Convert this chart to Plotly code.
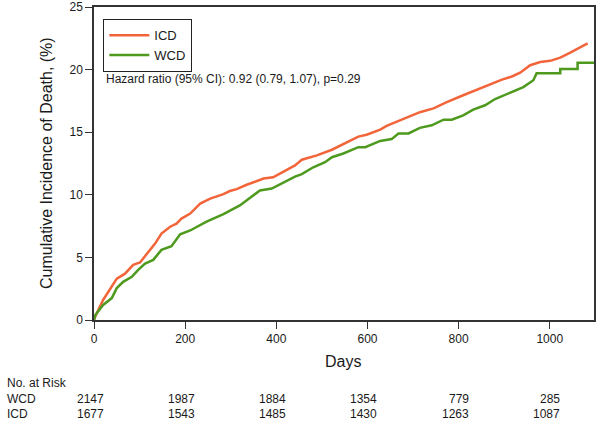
import plotly.graph_objects as go

# ---- data ----
icd_days = [0, 3, 20, 50, 68, 86, 101, 119, 134, 148, 167, 181, 192, 211, 233, 255, 284, 298, 313, 335,
            372, 393, 415, 441, 456, 489, 522, 555, 580, 598, 628, 642, 679, 715, 745, 774, 810, 847,
            876, 895, 917, 935, 957, 979, 1001, 1023, 1045, 1066, 1083]
icd_inc = [0.0, 0.3, 1.6, 3.3, 3.7, 4.4, 4.6, 5.45, 6.1, 6.9, 7.45, 7.7, 8.1, 8.5, 9.3, 9.7, 10.05, 10.3, 10.45, 10.8,
           11.3, 11.4, 11.85, 12.35, 12.8, 13.15, 13.6, 14.2, 14.65, 14.8, 15.2, 15.5, 16.05, 16.6, 16.9, 17.4, 17.95, 18.5,
           18.9, 19.2, 19.45, 19.75, 20.35, 20.6, 20.7, 20.95, 21.35, 21.75, 22.1]

wcd_days = [0, 3, 20, 39, 50, 64, 83, 97, 112, 130, 148, 170, 189, 211, 247, 284, 320, 335, 364, 390, 419,
            441, 456, 481, 507, 522, 547, 580, 595, 628, 653, 668, 690, 715, 741, 767, 785, 810, 832, 858,
            880, 906, 920, 942, 964, 971, 1023, 1023, 1061, 1061, 1097]
wcd_inc = [0.0, 0.4, 1.2, 1.75, 2.55, 3.05, 3.45, 4.0, 4.5, 4.8, 5.6, 5.9, 6.85, 7.15, 7.85, 8.45, 9.15, 9.55, 10.35, 10.5, 11.05,
           11.45, 11.65, 12.2, 12.6, 13.0, 13.3, 13.8, 13.8, 14.3, 14.45, 14.9, 14.9, 15.35, 15.55, 16.0, 16.0, 16.35, 16.8, 17.15,
           17.65, 18.05, 18.25, 18.6, 19.15, 19.7, 19.7, 20.05, 20.05, 20.55, 20.55]

risk_days = [0, 200, 400, 600, 800, 1000]
risk_wcd = [2147, 1987, 1884, 1354, 779, 285]
risk_icd = [1677, 1543, 1485, 1430, 1263, 1087]

x_ticks = [0, 200, 400, 600, 800, 1000]
y_ticks = [0, 5, 10, 15, 20, 25]

FONT = "Arial, Liberation Sans, Helvetica, sans-serif"
ORANGE = "#F2653A"
GREEN = "#4E9A1E"
AXC = "#333333"
TXT = "#1a1a1a"

fig = go.Figure()
fig.add_trace(go.Scatter(x=icd_days, y=icd_inc, mode="lines", name="ICD",
                         line=dict(color=ORANGE, width=2.5)))
fig.add_trace(go.Scatter(x=wcd_days, y=wcd_inc, mode="lines", name="WCD",
                         line=dict(color=GREEN, width=2.5)))

fig.update_layout(
    width=600, height=426,
    margin=dict(l=94, r=6, t=7, b=106, autoexpand=False),
    paper_bgcolor="white", plot_bgcolor="white",
    font=dict(family=FONT, size=12, color=TXT),
    showlegend=True,
    legend=dict(x=0.018, y=0.962, xanchor="left", yanchor="top",
                bordercolor="#222", borderwidth=1.3, bgcolor="white",
                font=dict(size=13, family=FONT, color=TXT),
                tracegroupgap=0, itemwidth=40),
)

fig.update_xaxes(range=[0, 1097], tickvals=x_ticks, ticks="outside", ticklen=7,
                 tickwidth=1.3, tickcolor=AXC, showline=True, linecolor=AXC, linewidth=1.5,
                 mirror=True, showgrid=False, zeroline=False, automargin=False,
                 tickfont=dict(size=12, family=FONT, color=TXT))
fig.update_yaxes(range=[0, 25], tickvals=y_ticks, ticks="outside", ticklen=7,
                 tickwidth=1.3, tickcolor=AXC, showline=True, linecolor=AXC, linewidth=1.5,
                 mirror=True, showgrid=False, zeroline=False, automargin=False,
                 tickfont=dict(size=12, family=FONT, color=TXT))

H = 313.0  # plot height in px
W = 500.0  # plot width in px


def py(pix):
    return (320 - pix) / H


def px(pix):
    return (pix - 94) / W


ann = []
ann.append(dict(text="Hazard ratio (95% CI): 0.92 (0.79, 1.07), p=0.29", xref="paper", yref="paper",
                x=px(104), y=py(79), xanchor="left", yanchor="middle", showarrow=False,
                font=dict(size=12, family=FONT, color=TXT)))
ann.append(dict(text="Cumulative Incidence of Death, (%)", xref="paper", yref="paper",
                x=px(46), y=py(163), xanchor="center", yanchor="middle", textangle=-90, showarrow=False,
                font=dict(size=16, family=FONT, color=TXT)))
ann.append(dict(text="Days", xref="paper", yref="paper",
                x=px(343), y=py(361), xanchor="center", yanchor="middle", showarrow=False,
                font=dict(size=16, family=FONT, color=TXT)))
ann.append(dict(text="No. at Risk", xref="paper", yref="paper", x=px(5), y=py(383),
                xanchor="left", yanchor="middle", showarrow=False,
                font=dict(size=12, family=FONT, color=TXT)))
ann.append(dict(text="WCD", xref="paper", yref="paper", x=px(5), y=py(399),
                xanchor="left", yanchor="middle", showarrow=False,
                font=dict(size=12, family=FONT, color=TXT)))
ann.append(dict(text="ICD", xref="paper", yref="paper", x=px(5), y=py(414),
                xanchor="left", yanchor="middle", showarrow=False,
                font=dict(size=12, family=FONT, color=TXT)))
for d, w, i in zip(risk_days, risk_wcd, risk_icd):
    ann.append(dict(text=str(w), xref="x", yref="paper", x=d, y=py(399), xshift=12,
                    xanchor="right", yanchor="middle", showarrow=False,
                    font=dict(size=12, family=FONT, color=TXT)))
    ann.append(dict(text=str(i), xref="x", yref="paper", x=d, y=py(414), xshift=12,
                    xanchor="right", yanchor="middle", showarrow=False,
                    font=dict(size=12, family=FONT, color=TXT)))
fig.update_layout(annotations=ann)

fig.write_html("out.html", config={"displayModeBar": False},
               post_script="document.body.style.margin='0';document.body.style.padding='0';"
                           "document.body.style.overflow='hidden';")
